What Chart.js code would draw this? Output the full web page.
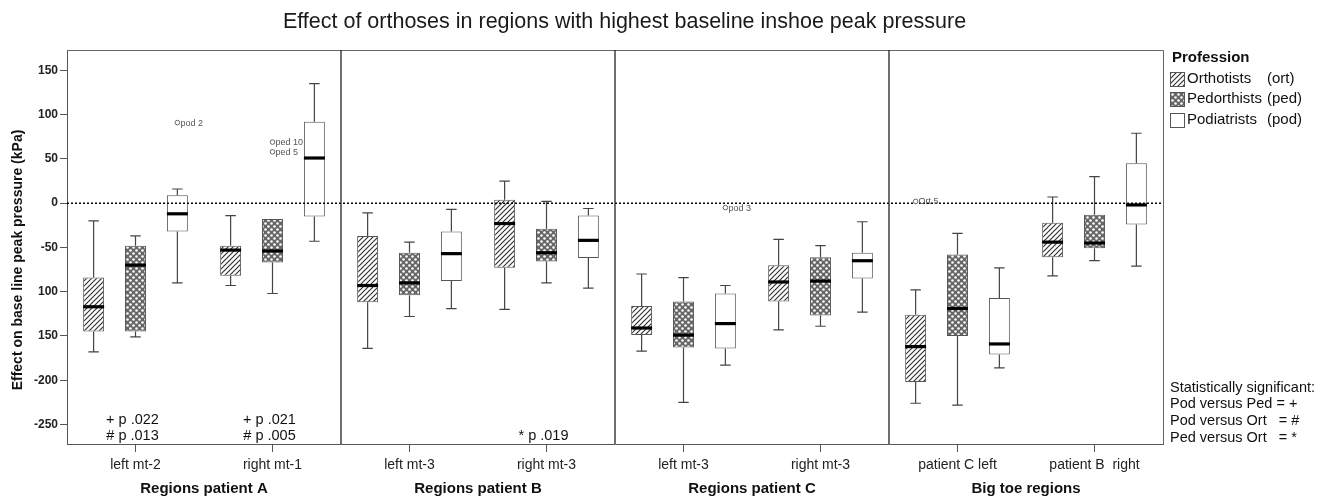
<!DOCTYPE html>
<html lang="en">
<head>
<meta charset="UTF-8">
<title>Effect of orthoses</title>
<script src="https://cdn.jsdelivr.net/npm/chart.js"></script>
<style>
  body { margin: 0; background: #fff; font-family: "Liberation Sans", Arial, sans-serif; color: #111; }
  #wrap { position: relative; width: 1320px; height: 496px; overflow: hidden; }
  #chart { position: absolute; left: 0; top: 0; }
  .title { position: absolute; left: 0; top: 9px; width: 1249px; text-align: center; font-size: 21.5px; line-height: 25px; color: #1a1a1a; }
  .legend { position: absolute; left: 1170px; top: 47px; font-size: 15px; line-height: 20.7px; }
  .legend b { display: block; margin-left: 2px; }
  .legend .row { position: relative; height: 20.7px; white-space: nowrap; }
  .legend canvas { position: absolute; left: 0; top: 4px; border: 1px solid #555; box-sizing: border-box; }
  .legend .name { position: absolute; left: 17px; }
  .legend .code { position: absolute; left: 97px; }
  .notes { position: absolute; left: 1170px; top: 378.5px; font-size: 14.5px; line-height: 16.8px; white-space: pre; }
</style>
</head>
<body>
<div id="wrap">
  <canvas id="chart" width="1320" height="496"></canvas>
  <div class="title">Effect of orthoses in regions with highest baseline inshoe peak pressure</div>
  <div class="legend" id="legend"><b>Profession</b></div>
  <div class="notes">Statistically significant:
Pod versus Ped = +
Pod versus Ort   = #
Ped versus Ort   = *</div>
</div>
<script>
// regions (x categories) and panels
const regions = ['left mt-2', 'right mt-1', 'left mt-3', 'right mt-3', 'left mt-3', 'right mt-3', 'patient C left', 'patient B  right'];
const panels = ['Regions patient A', 'Regions patient B', 'Regions patient C', 'Big toe regions'];
const professions = ['Orthotists', 'Pedorthists', 'Podiatrists'];
const professionCodes = ['(ort)', '(ped)', '(pod)'];

// box plot values per region (kPa)
const ortLow    = [-168, -93, -164, -120, -167, -143, -226, -82];
const ortQ1     = [-145, -82, -112, -73, -149, -111, -202, -61];
const ortMedian = [-117, -53, -93, -23, -141, -89, -162, -44];
const ortQ3     = [-84, -48, -37, 4, -116, -70, -126, -22];
const ortHigh   = [-20, -14, -11, 25, -80, -41, -98, 7];

const pedLow    = [-151, -102, -128, -90, -225, -139, -228, -65];
const pedQ1     = [-145, -67, -104, -66, -163, -127, -150, -51];
const pedMedian = [-70, -54, -90, -56, -149, -88, -119, -45];
const pedQ3     = [-48, -18, -56, -29, -111, -61, -58, -13];
const pedHigh   = [-37, -18, -44, 2, -84, -48, -34, 30];

const podLow    = [-90, -43, -119, -96, -183, -123, -186, -71];
const podQ1     = [-32, -15, -88, -62, -164, -85, -171, -24];
const podMedian = [-12, 51, -57, -42, -136, -65, -159, -2];
const podQ3     = [9, 92, -32, -14, -102, -56, -107, 45];
const podHigh   = [16, 135, -7, -6, -93, -21, -73, 79];

// outliers
const outlierRegion = [0, 1, 1, 4, 6];
const outlierProf   = [2, 1, 1, 2, 0];
const outlierValue  = [91, 69, 58, -5, 2];
const outlierLabel  = ['pod 2', 'ped 10', 'ped 5', 'pod 3', 'Ort 5'];

// significance notes per region
const pRegion = [0, 1, 3];
const pLines  = [['+ p .022', '# p .013'], ['+ p .021', '# p .005'], ['* p .019']];

// y axis
const yTicks = [150, 100, 50, 0, -50, -100, -150, -200, -250];
const yTickLabels = ['150', '100', '50', '0', '-50', '100', '150', '-200', '-250'];
const yTitle = 'Effect on base line peak pressure (kPa)';

const stats = [
  { low: ortLow, q1: ortQ1, med: ortMedian, q3: ortQ3, high: ortHigh },
  { low: pedLow, q1: pedQ1, med: pedMedian, q3: pedQ3, high: pedHigh },
  { low: podLow, q1: podQ1, med: podMedian, q3: podQ3, high: podHigh }
];

const FONT = "'Liberation Sans', Arial, sans-serif";
Chart.defaults.font.family = FONT;
Chart.defaults.color = '#111';

// fill patterns
function hatchTile() {
  const c = document.createElement('canvas');
  c.width = 5; c.height = 5;
  const g = c.getContext('2d');
  g.fillStyle = '#fff'; g.fillRect(0, 0, 5, 5);
  g.strokeStyle = '#333'; g.lineWidth = 1.2;
  g.beginPath();
  g.moveTo(-1, 6); g.lineTo(6, -1);
  g.moveTo(-1, 1); g.lineTo(1, -1);
  g.moveTo(4, 6); g.lineTo(6, 4);
  g.stroke();
  return c;
}
function dotTile() {
  const c = document.createElement('canvas');
  c.width = 6; c.height = 6;
  const g = c.getContext('2d');
  g.fillStyle = '#666'; g.fillRect(0, 0, 6, 6);
  g.fillStyle = '#fff';
  [[1.5, 1.5], [4.5, 4.5]].forEach(p => { g.beginPath(); g.arc(p[0], p[1], 1.3, 0, Math.PI * 2); g.fill(); });
  return c;
}
function plainTile() {
  const c = document.createElement('canvas');
  c.width = 4; c.height = 4;
  const g = c.getContext('2d');
  g.fillStyle = '#fff'; g.fillRect(0, 0, 4, 4);
  return c;
}
const tiles = [hatchTile(), dotTile(), plainTile()];
const ctx = document.getElementById('chart').getContext('2d');
const fills = tiles.map(t => ctx.createPattern(t, 'repeat'));

// legend
const legend = document.getElementById('legend');
professions.forEach((p, i) => {
  const row = document.createElement('div');
  row.className = 'row';
  const sw = document.createElement('canvas');
  sw.width = 13; sw.height = 13;
  const g = sw.getContext('2d');
  g.fillStyle = g.createPattern(tiles[i], 'repeat');
  g.fillRect(0, 0, 13, 13);
  row.appendChild(sw);
  const n = document.createElement('span'); n.className = 'name'; n.textContent = p;
  const c = document.createElement('span'); c.className = 'code'; c.textContent = professionCodes[i];
  row.appendChild(n); row.appendChild(c);
  legend.appendChild(row);
});

const boxPlugin = {
  id: 'boxplot',
  afterDatasetsDraw(chart) {
    const { ctx, chartArea: a, scales: { x, y } } = chart;
    ctx.save();
    // whiskers and medians
    stats.forEach((s, di) => {
      chart.getDatasetMeta(di).data.forEach((bar, i) => {
        const cx = bar.x, w = bar.width;
        const yHi = y.getPixelForValue(s.high[i]), yQ3 = y.getPixelForValue(s.q3[i]);
        const yLo = y.getPixelForValue(s.low[i]), yQ1 = y.getPixelForValue(s.q1[i]);
        ctx.strokeStyle = '#444'; ctx.lineWidth = 1.2;
        ctx.beginPath();
        if (s.high[i] > s.q3[i]) {
          ctx.moveTo(cx, yQ3); ctx.lineTo(cx, yHi);
          ctx.moveTo(cx - w / 4, yHi); ctx.lineTo(cx + w / 4, yHi);
        }
        if (s.low[i] < s.q1[i]) {
          ctx.moveTo(cx, yQ1); ctx.lineTo(cx, yLo);
          ctx.moveTo(cx - w / 4, yLo); ctx.lineTo(cx + w / 4, yLo);
        }
        ctx.stroke();
        ctx.strokeStyle = '#000'; ctx.lineWidth = 3.2;
        ctx.beginPath();
        const ym = y.getPixelForValue(s.med[i]);
        ctx.moveTo(cx - w / 2, ym); ctx.lineTo(cx + w / 2, ym);
        ctx.stroke();
      });
    });
    // zero line
    const y0 = y.getPixelForValue(0);
    ctx.strokeStyle = '#000'; ctx.lineWidth = 1.5; ctx.setLineDash([2, 2]);
    ctx.beginPath(); ctx.moveTo(a.left, y0); ctx.lineTo(a.right, y0); ctx.stroke();
    ctx.setLineDash([]);
    // frame
    ctx.strokeStyle = '#666'; ctx.lineWidth = 1;
    ctx.beginPath();
    ctx.moveTo(a.left, a.top + 0.5); ctx.lineTo(a.right + 0.5, a.top + 0.5); ctx.lineTo(a.right + 0.5, a.bottom);
    ctx.stroke();
    // panel dividers
    ctx.strokeStyle = '#222'; ctx.lineWidth = 1.3;
    [1, 3, 5].forEach(k => {
      const xd = Math.round((x.getPixelForValue(k) + x.getPixelForValue(k + 1)) / 2);
      ctx.beginPath(); ctx.moveTo(xd, a.top); ctx.lineTo(xd, a.bottom); ctx.stroke();
    });
    // outliers
    outlierValue.forEach((v, k) => {
      const bar = chart.getDatasetMeta(outlierProf[k]).data[outlierRegion[k]];
      const px = bar.x, py = y.getPixelForValue(v);
      ctx.strokeStyle = '#666'; ctx.lineWidth = 1; ctx.fillStyle = '#fff';
      ctx.beginPath(); ctx.arc(px, py, 2.3, 0, Math.PI * 2); ctx.fill(); ctx.stroke();
      ctx.fillStyle = '#555'; ctx.font = '9px ' + FONT;
      ctx.textAlign = 'left'; ctx.textBaseline = 'middle';
      ctx.fillText(outlierLabel[k], px + 3, py + 0.5);
    });
    // significance notes
    ctx.fillStyle = '#111'; ctx.font = '14.5px ' + FONT;
    ctx.textAlign = 'center'; ctx.textBaseline = 'middle';
    pRegion.forEach((r, k) => {
      const px = x.getPixelForValue(r) - 3;
      const lines = pLines[k];
      lines.forEach((t, j) => {
        const py = a.bottom - 8 - (lines.length - 1 - j) * 16.5;
        ctx.fillText(t, px, py);
      });
    });
    // y axis title
    ctx.fillStyle = '#111'; ctx.font = 'bold 14px ' + FONT;
    ctx.textAlign = 'center'; ctx.textBaseline = 'alphabetic';
    ctx.translate(22, a.top + (a.bottom - a.top) * 0.533);
    ctx.rotate(-Math.PI / 2);
    ctx.fillText(yTitle, 0, 0);
    ctx.restore();
  }
};

const datasets = professions.map((p, di) => ({
  label: p,
  data: regions.map((r, i) => [stats[di].q1[i], stats[di].q3[i]]),
  backgroundColor: fills[di],
  borderColor: '#555',
  borderWidth: 1,
  borderSkipped: false,
  barPercentage: 0.5,
  categoryPercentage: 0.917
}));

new Chart(ctx, {
  type: 'bar',
  data: { labels: regions, datasets },
  options: {
    responsive: false,
    animation: false,
    layout: { padding: { left: 0, right: 157, top: 50, bottom: 0 } },
    plugins: { legend: { display: false }, tooltip: { enabled: false } },
    scales: {
      x: {
        type: 'category',
        offset: true,
        grid: { drawOnChartArea: false, offset: false, tickLength: 8, color: '#555' },
        border: { color: '#555' },
        ticks: { font: { size: 14 }, color: '#222', padding: 5, maxRotation: 0, autoSkip: false },
        afterFit(s) { s.height = 30; }
      },
      x2: {
        type: 'category',
        labels: panels,
        position: 'bottom',
        offset: true,
        grid: { display: false, drawTicks: false },
        border: { display: false },
        ticks: { font: { size: 15, weight: 'bold' }, color: '#111', padding: 6, maxRotation: 0 },
        afterFit(s) { s.height = 22; }
      },
      y: {
        min: -272,
        max: 173,
        afterBuildTicks(s) { s.ticks = yTicks.map(v => ({ value: v })); },
        grid: { drawOnChartArea: false, tickLength: 7, color: '#555' },
        border: { color: '#555' },
        ticks: {
          font: { size: 12, weight: 'bold' }, color: '#222', padding: 2,
          callback: v => yTickLabels[yTicks.indexOf(v)]
        },
        afterFit(s) { s.width = 67; }
      }
    }
  },
  plugins: [boxPlugin]
});
</script>
</body>
</html>
